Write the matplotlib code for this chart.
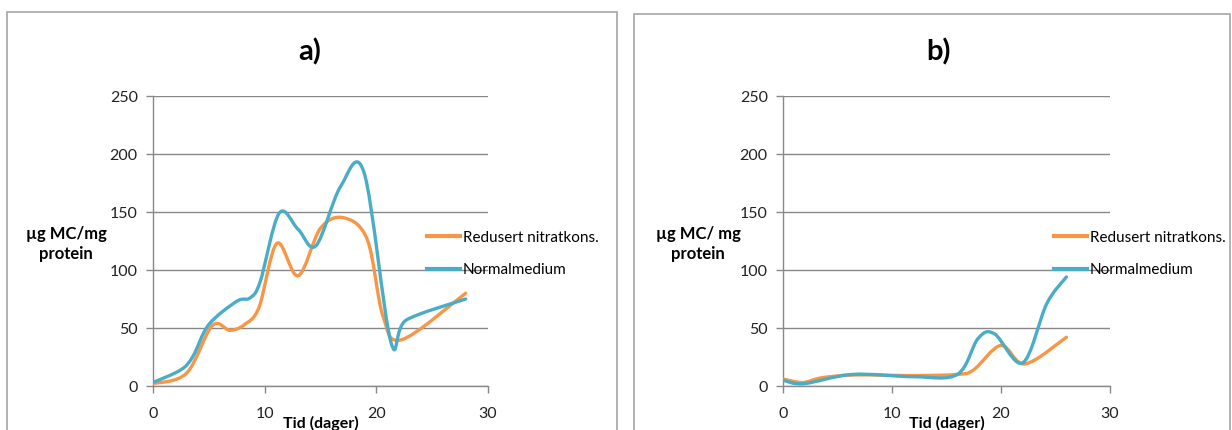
import matplotlib
matplotlib.use("Agg")
import matplotlib.pyplot as plt
from matplotlib.path import Path
from matplotlib.patches import PathPatch, Rectangle
from matplotlib.lines import Line2D

# MC content per protein over time, two growth media
a_red_days = [0, 3, 5.3, 6.9, 8.2, 9.5, 11.1, 13, 15, 17.1, 19.2, 20.6, 22.3, 28]
a_red_vals = [2, 11, 52, 48, 53, 68, 123, 95, 136, 145, 126, 60, 40, 80]
a_norm_days = [0, 2.5, 3.6, 5, 7.5, 8.7, 9.6, 11.3, 13, 14.6, 16.8, 18.9, 21.3, 22.7, 28]
a_norm_vals = [3, 14, 26, 53, 73, 76, 90, 149, 135, 121, 172, 184, 38, 57, 75]

b_red_days = [0, 1.8, 3.5, 6.5, 12, 16, 17.5, 20, 22.2, 26]
b_red_vals = [6, 3, 7, 9.5, 9, 10, 14, 35, 19, 42]
b_norm_days = [0, 1.9, 6.4, 12, 16, 17.9, 19.4, 22, 24.2, 26]
b_norm_vals = [5, 2, 10, 8, 10, 41, 45, 20, 71, 94]

series_names = ["Redusert nitratkons.", "Normalmedium"]
panel_titles = ["a)", "b)"]
y_labels = ["µg MC/mg\nprotein", "µg MC/ mg\nprotein"]
x_label = "Tid (dager)"

ORANGE = "#F79646"
BLUE = "#4BACC6"
GRID = "#888888"
FONT = "Lato"

W, H = 1232, 430


def smooth_path(xs, ys):
    # spreadsheet-style smoothed line: cubic Bezier through every point
    pts = list(zip(xs, ys))
    n = len(pts)
    verts = [pts[0]]
    codes = [Path.MOVETO]
    for i in range(n - 1):
        p0 = pts[max(i - 1, 0)]
        p1 = pts[i]
        p2 = pts[i + 1]
        p3 = pts[min(i + 2, n - 1)]
        c1 = (p1[0] + (p2[0] - p0[0]) / 6, p1[1] + (p2[1] - p0[1]) / 6)
        c2 = (p2[0] - (p3[0] - p1[0]) / 6, p2[1] - (p3[1] - p1[1]) / 6)
        verts += [c1, c2, p2]
        codes += [Path.CURVE4] * 3
    return Path(verts, codes)


fig = plt.figure(figsize=(W / 100, H / 100), dpi=100)

# chart frames
for x0, y0, x1 in [(7, 12, 617), (634, 14, 1230)]:
    fig.patches.append(Rectangle((x0 / W, -0.02), (x1 - x0) / W, 1.02 - y0 / H,
                                 transform=fig.transFigure, fill=False,
                                 edgecolor="#A6A6A6", linewidth=1.2))

panels = [
    (153, 488, a_red_days, a_red_vals, a_norm_days, a_norm_vals, 421, 310, 66),
    (783, 1110, b_red_days, b_red_vals, b_norm_days, b_norm_vals, 1048, 938, 698),
]
top_px, bot_px = 96, 386

for k, (l, r, rd, rv, nd, nv, leg_x, title_x, ylab_x) in enumerate(panels):
    ax = fig.add_axes([l / W, 1 - bot_px / H, (r - l) / W, (bot_px - top_px) / H])
    ax.set_xlim(0, 30)
    ax.set_ylim(0, 250)
    ax.set_xticks([0, 10, 20, 30])
    ax.set_yticks([0, 50, 100, 150, 200, 250])
    ax.yaxis.grid(True, color=GRID, linewidth=1.0)
    ax.set_axisbelow(True)
    for s in ["top", "right"]:
        ax.spines[s].set_visible(False)
    for s in ["left", "bottom"]:
        ax.spines[s].set_color(GRID)
        ax.spines[s].set_linewidth(1.0)
    ax.tick_params(direction="out", length=5, width=1.0, color=GRID,
                   labelsize=11.5, labelcolor="#222222")
    ax.tick_params(axis="x", pad=10)
    ax.tick_params(axis="y", pad=6)
    for t in ax.get_xticklabels() + ax.get_yticklabels():
        t.set_fontfamily(FONT)

    for xs, ys, c in [(rd, rv, ORANGE), (nd, nv, BLUE)]:
        ax.add_patch(PathPatch(smooth_path(xs, ys), fill=False, edgecolor=c,
                               linewidth=2.4, capstyle="round", joinstyle="round",
                               zorder=3))

    cx = (l + r) / 2
    fig.text(title_x / W, 1 - 52 / H, panel_titles[k], ha="center", va="center",
             fontsize=21, fontweight="bold", family=FONT)
    fig.text(cx / W, 1 - 423 / H, x_label, ha="center", va="center",
             fontsize=11.5, fontweight="bold", family=FONT)
    fig.text(ylab_x / W, 1 - 244 / H, y_labels[k], ha="center", va="center",
             fontsize=12, fontweight="bold", family=FONT, linespacing=1.35)

    handles = [Line2D([], [], color=ORANGE, linewidth=3),
               Line2D([], [], color=BLUE, linewidth=3)]
    fig.legend(handles, series_names, loc="center left",
               bbox_to_anchor=((leg_x - 8) / W, 1 - 254 / H),
               frameon=False, handlelength=2.2, handletextpad=0.15,
               labelspacing=1.2, borderpad=0.4,
               prop={"family": FONT, "size": 11})

fig.savefig("out.png", dpi=100)
